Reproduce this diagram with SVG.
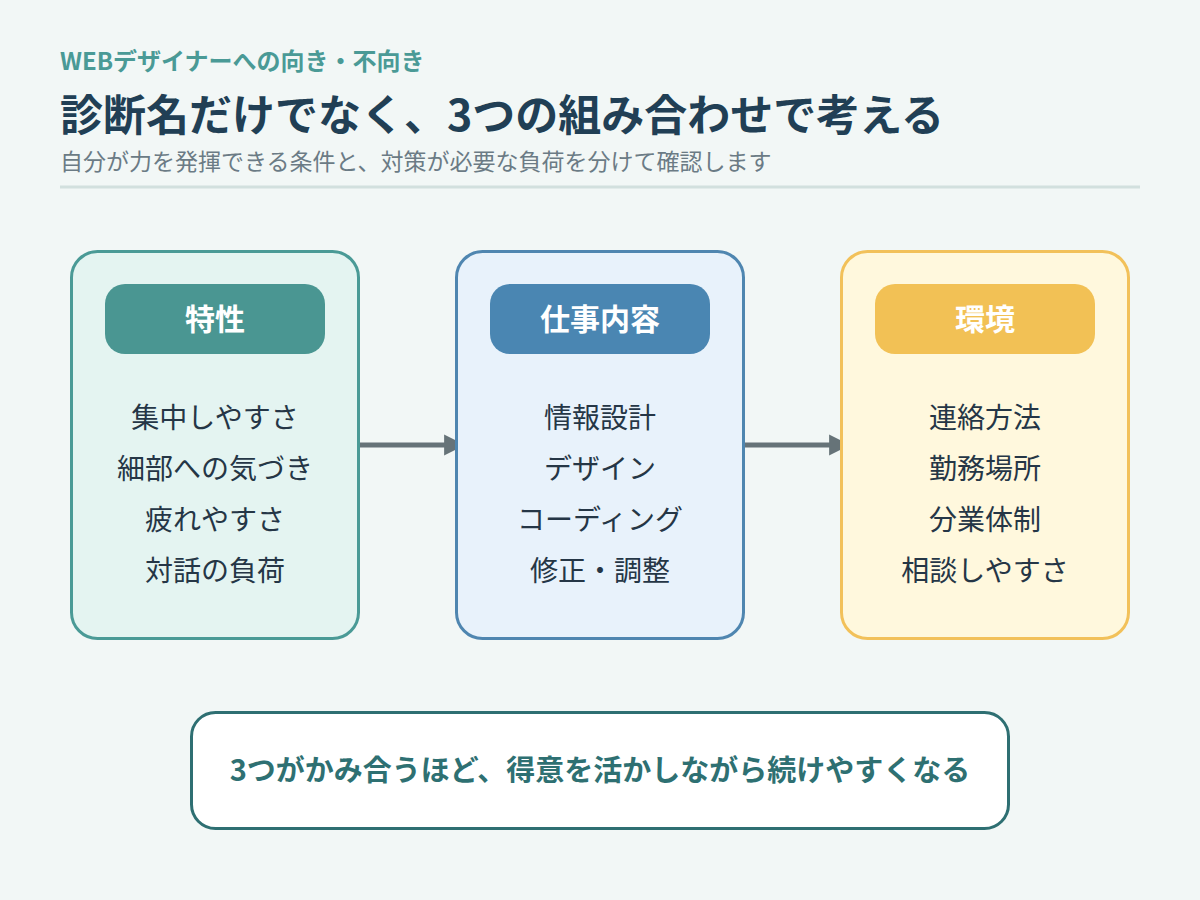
<svg xmlns="http://www.w3.org/2000/svg" width="1200" height="900" viewBox="0 0 1200 900">
<defs>
<style>
text{font-family:"Noto Sans CJK JP","Noto Sans",sans-serif}
.head{font-size:30px;font-weight:700;fill:#ffffff;text-anchor:middle}
.item{font-size:28px;fill:#253646;text-anchor:middle}
.conn{stroke:#667378;stroke-width:5;fill:none}
</style>
<marker id="arr" viewBox="0 0 10 10" refX="9" refY="5" markerWidth="4.2" markerHeight="5.4" orient="auto" markerUnits="strokeWidth">
<path d="M0,0 L10,5 L0,10 Z" fill="#667378"/>
</marker>
</defs>
<rect x="0" y="0" width="1200" height="900" fill="#f2f7f6"/>
<g id="header">
<text x="60" y="70" font-size="24" font-weight="700" fill="#4a9a96">WEBデザイナーへの向き・不向き</text>
<text x="60" y="131" font-size="43" font-weight="700" fill="#213f55">診断名だけでなく、3つの組み合わせで考える</text>
<text x="60" y="170" font-size="23" fill="#6b7b85">自分が力を発揮できる条件と、対策が必要な負荷を分けて確認します</text>
<line x1="60" y1="187" x2="1140" y2="187" stroke="#d2e0de" stroke-width="3"/>
</g>
<g id="connectors">
<line class="conn" x1="360" y1="445" x2="463" y2="445" marker-end="url(#arr)"/>
<line class="conn" x1="745" y1="445" x2="848" y2="445" marker-end="url(#arr)"/>
</g>
<g id="node-tokusei">
<rect x="71.5" y="251.5" width="287" height="387" rx="26" fill="#e4f4f1" stroke="#4a9a96" stroke-width="3"/>
<rect x="105" y="284" width="220" height="70" rx="20" fill="#4a9692"/>
<text class="head" x="215" y="330">特性</text>
<text class="item" x="215" y="428">集中しやすさ</text>
<text class="item" x="215" y="479">細部への気づき</text>
<text class="item" x="215" y="530">疲れやすさ</text>
<text class="item" x="215" y="581">対話の負荷</text>
</g>
<g id="node-shigoto">
<rect x="456.5" y="251.5" width="287" height="387" rx="26" fill="#e8f2fb" stroke="#4f86b0" stroke-width="3"/>
<rect x="490" y="284" width="220" height="70" rx="20" fill="#4a86b2"/>
<text class="head" x="600" y="330">仕事内容</text>
<text class="item" x="600" y="428">情報設計</text>
<text class="item" x="600" y="479">デザイン</text>
<text class="item" x="600" y="530">コーディング</text>
<text class="item" x="600" y="581">修正・調整</text>
</g>
<g id="node-kankyo">
<rect x="841.5" y="251.5" width="287" height="387" rx="26" fill="#fff8dd" stroke="#f2c15a" stroke-width="3"/>
<rect x="875" y="284" width="220" height="70" rx="20" fill="#f2c155"/>
<text class="head" x="985" y="330">環境</text>
<text class="item" x="985" y="428">連絡方法</text>
<text class="item" x="985" y="479">勤務場所</text>
<text class="item" x="985" y="530">分業体制</text>
<text class="item" x="985" y="581">相談しやすさ</text>
</g>
<g id="summary">
<rect x="191.5" y="712.5" width="817" height="116" rx="24" fill="#ffffff" stroke="#2e6f72" stroke-width="3"/>
<text x="600" y="781" font-size="29" font-weight="700" fill="#2e7072" text-anchor="middle">3つがかみ合うほど、得意を活かしながら続けやすくなる</text>
</g>
</svg>
